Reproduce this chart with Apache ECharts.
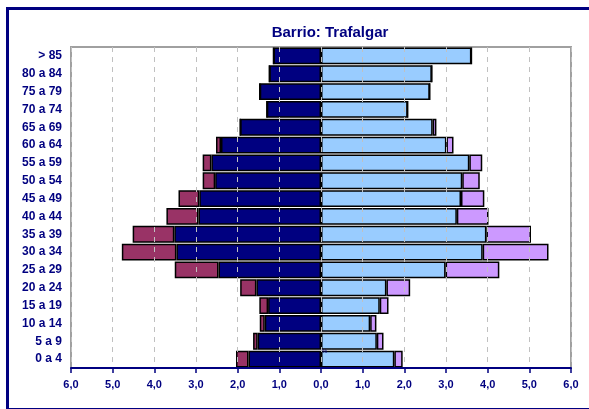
<!DOCTYPE html>
<html>
<head>
<meta charset="utf-8">
<script src="https://cdn.jsdelivr.net/npm/echarts@6/dist/echarts.min.js"></script>
<style>
html,body{margin:0;padding:0;background:#fff;}
#frame{position:absolute;left:6px;top:7px;width:620px;height:398px;border:3px solid #000080;border-right:none;border-bottom:2px solid #000080;}
#c{position:absolute;left:0;top:0;width:589px;height:409px;}
</style>
</head>
<body>
<div id="frame"></div>
<div id="c"></div>
<script>
const categories = ['0 a 4','5 a 9','10 a 14','15 a 19','20 a 24','25 a 29','30 a 34','35 a 39','40 a 44','45 a 49','50 a 54','55 a 59','60 a 64','65 a 69','70 a 74','75 a 79','80 a 84','> 85'];
const menSpanish   = [1.74,1.52,1.35,1.27,1.55,2.46,3.47,3.52,2.94,2.92,2.54,2.63,2.40,1.94,1.30,1.47,1.24,1.14];
const menForeign   = [0.30,0.11,0.12,0.21,0.39,1.05,1.31,1.00,0.77,0.50,0.30,0.21,0.12,0,0,0,0,0];
const womenSpanish = [1.76,1.34,1.18,1.41,1.57,2.99,3.88,3.97,3.26,3.36,3.39,3.56,3.01,2.68,2.08,2.61,2.66,3.61];
const womenForeign = [0.20,0.16,0.15,0.21,0.57,1.29,1.58,1.07,0.76,0.56,0.42,0.31,0.17,0.09,0,0,0,0];
const xTicks = [-6,-5,-4,-3,-2,-1,0,1,2,3,4,5,6];

const chart = echarts.init(document.getElementById('c'), null, {renderer:'canvas'});
const navy = '#000080';
function bar(name, data, color, neg){
  return {
    name, type:'bar', stack:'all', data: data.map(v => neg ? -v : v),
    barCategoryGap:'6%',
    itemStyle:{color, borderColor:'#000', borderWidth:1.5},
    emphasis:{disabled:true}
  };
}
chart.setOption({
  animation:false,
  title:{text:'Barrio: Trafalgar', left:325, top:20, textAlign:'center',
    textStyle:{fontFamily:'Arial, Liberation Sans', fontSize:15, fontWeight:'bold', color:navy}},
  grid:{left:71, right:18, top:47, bottom:41, show:true, borderColor:'#a0a0a0', borderWidth:2, backgroundColor:'transparent'},
  xAxis:{type:'value', min:-6, max:6, interval:1, z:5,
    axisLine:{show:true, onZero:false, lineStyle:{color:navy, width:2}},
    axisTick:{show:true, length:5, lineStyle:{color:navy, width:1.5}},
    axisLabel:{margin:11, fontFamily:'Arial, Liberation Sans', fontSize:11, fontWeight:'bold', color:navy,
      formatter: v => xTicks.includes(v) ? Math.abs(v).toFixed(1).replace('.', ',') : ''},
    splitLine:{show:true, lineStyle:{color:'#c0c0c0', type:[5,5], width:1}}
  },
  yAxis:{type:'category', data:categories,
    axisLine:{show:false}, axisTick:{show:false},
    axisLabel:{margin:9, fontFamily:'Arial, Liberation Sans', fontSize:12, fontWeight:'bold', color:navy}
  },
  series:[
    bar('Hombres españoles', menSpanish, '#000080', true),
    bar('Hombres extranjeros', menForeign, '#993366', true),
    bar('Mujeres españolas', womenSpanish, '#99CCFF', false),
    bar('Mujeres extranjeras', womenForeign, '#CC99FF', false)
  ],
  graphic:[{type:'text', left:322, top:348, z:100, style:{text:'%', fontSize:6, fill:navy}}]
});
</script>
</body>
</html>
